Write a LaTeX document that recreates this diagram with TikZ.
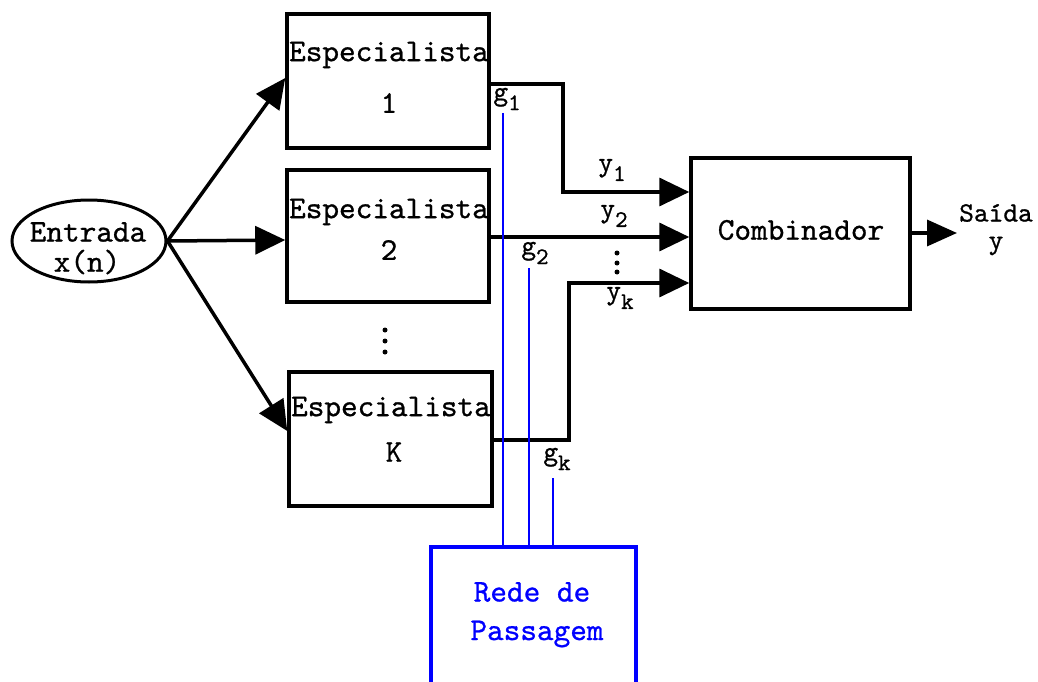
\documentclass[tikz,border=0pt]{standalone}
\usepackage{fontspec}
\newfontfamily\mytt[FakeBold=0.8]{lmmono10-regular.otf}
\usetikzlibrary{arrows.meta,shapes.geometric}
\newcommand\mysub[1]{\raisebox{-0.35em}{\scalebox{0.85}{#1}}}
\tikzset{
  box/.style={draw, line width=3.5pt, rectangle, inner sep=0pt},
  big/.style={font=\fontsize{31.7}{34}\mytt, inner sep=0pt},
  lab/.style={font=\fontsize{28}{30}\mytt, inner sep=0pt},
  arr/.style={line width=3.5pt, -{Triangle[length=30pt,width=28pt]}},
  gline/.style={draw=blue, line width=2pt},
}
\begin{document}
\begin{tikzpicture}[x=1pt,y=-1pt]
\useasboundingbox (0,0) rectangle (1038,682);
% input ellipse
\node[draw, ellipse, line width=3pt, minimum width=154pt, minimum height=82pt, inner sep=0pt] (ent) at (89,241) {};
\node[big] (entt) at (88,232) {Entrada};
\node[big] (entx) at (87,262) {x(n)};
% experts
\node[box, minimum width=202pt, minimum height=134pt] (e1) at (388,81) {};
\node[box, minimum width=202pt, minimum height=132pt] (e2) at (388,236) {};
\node[box, minimum width=203pt, minimum height=134pt] (eK) at (390.5,439) {};
\node[big] (e1a) at (389,55) {Especialista};
\node[big] (e1b) at (389,103) {1};
\node[big] (e2a) at (389,212) {Especialista};
\node[big] (e2b) at (389,250) {2};
\node[big] (eKa) at (391,410) {Especialista};
\node[big] (eKb) at (394,452) {K};
% dots between experts
\fill (385,330) circle (2.5pt) (385,341) circle (2.5pt) (385,352) circle (2.5pt);
% combiner
\node[box, minimum width=219pt, minimum height=151pt] (comb) at (800.5,233.5) {};
\node[big] (combt) at (801,230) {Combinador};
% gating network
\node[draw=blue, line width=3.5pt, rectangle, minimum width=205pt, minimum height=170pt, inner sep=0pt] (rede) at (533.5,632) {};
\node[big, text=blue] (redea) at (532,592) {Rede de};
\node[big, text=blue] (redeb) at (537,634) {Passagem};
% input arrows
\draw[arr] (ent.east) -- (e1.west |- 0,78);
\draw[arr] (ent.east) -- (e2.west |- 0,240);
\draw[arr] (ent.east) -- (eK.west |- 0,431);
% expert outputs
\draw[arr] (e1.east |- 0,84) -- (563,84) -- (563,192) -- (comb.west |- 0,192);
\draw[arr] (e2.east |- 0,237) -- (comb.west |- 0,237);
\draw[arr] (eK.east |- 0,440) -- (569,440) -- (569,283) -- (comb.west |- 0,283);
% output
\coordinate (out) at (957,233);
\draw[line width=3.5pt, -{Triangle[length=30pt,width=26pt]}] (comb.east |- out) -- (out);
\node[lab] (saida) at (996,213) {Saída};
\node[lab] (ysai) at (996,246) {y};
% y labels
\node[lab] (y1) at (612,170) {y\mysub{1}};
\node[lab] (y2) at (614,216) {y\mysub{2}};
\fill (617,253) circle (2.5pt) (617,263) circle (2.5pt) (617,272) circle (2.5pt);
\node[lab] (yk) at (620,298) {y\mysub{k}};
% gating lines
\node[lab] (g1) at (507,99) {g\mysub{1}};
\node[lab] (g2) at (535,253) {g\mysub{2}};
\node[lab] (gk) at (557,459) {g\mysub{k}};
\coordinate (g1t) at (503,113);
\coordinate (g2t) at (529,268);
\coordinate (gkt) at (553,478);
\draw[gline] (g1t) -- (g1t |- rede.north);
\draw[gline] (g2t) -- (g2t |- rede.north);
\draw[gline] (gkt) -- (gkt |- rede.north);
\end{tikzpicture}
\end{document}
